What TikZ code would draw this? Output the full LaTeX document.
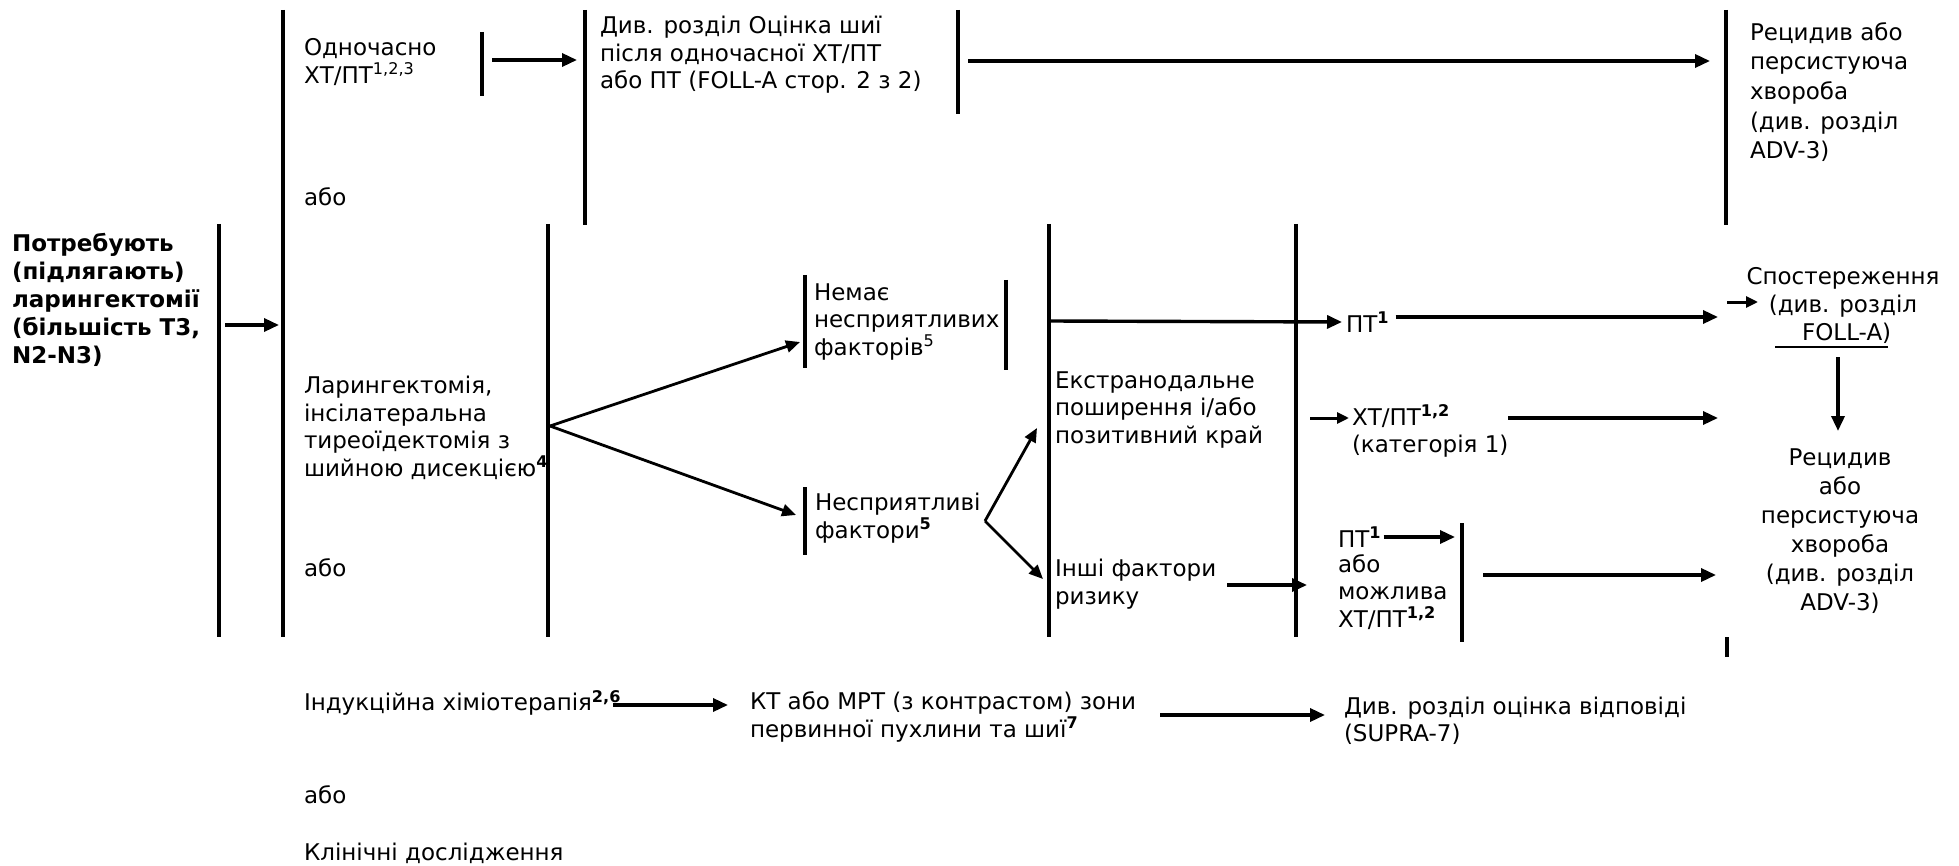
\documentclass[tikz,border=0pt]{standalone}
\usepackage{fontspec}
\setmainfont{DejaVu Sans}
\usetikzlibrary{arrows.meta}
\begin{document}
\begin{tikzpicture}[x=0.5pt,y=-0.5pt,
  bar/.style={line width=1.9pt},
  arr/.style={line width=1.7pt,-{Triangle[length=7.5pt,width=6.5pt]}},
  darr/.style={line width=1.4pt,-{Triangle[length=7pt,width=6pt]}},
  sarr/.style={line width=1.5pt,-{Triangle[length=6pt,width=5.5pt]}},
  txt/.style={inner sep=0pt,outer sep=0pt,align=left,anchor=west,font=\fontsize{11.5pt}{13.75pt}\selectfont},
  wtxt/.style={txt,font=\fontsize{11.5pt}{14.8pt}\selectfont},
  ctxt/.style={txt,align=center,anchor=center,font=\fontsize{11.5pt}{14.5pt}\selectfont},
  btxt/.style={txt,font=\fontsize{11.5pt}{14pt}\selectfont\bfseries}]
\useasboundingbox (0,0) rectangle (1959,866);

% ---------- vertical bars ----------
\draw[bar] (219,224) -- (219,637);
\draw[bar] (283,10) -- (283,637);
\draw[bar] (482,32) -- (482,96);
\draw[bar] (585,10) -- (585,225);
\draw[bar] (958,10) -- (958,114);
\draw[bar] (1726,10) -- (1726,225);
\draw[bar] (548,224) -- (548,637);
\draw[bar] (805,275) -- (805,368);
\draw[bar] (1006,280) -- (1006,370);
\draw[bar] (805,487) -- (805,555);
\draw[bar] (1049,224) -- (1049,637);
\draw[bar] (1296,224) -- (1296,637);
\draw[bar] (1462,523) -- (1462,642);
\draw[bar] (1727,637) -- (1727,657);

% ---------- texts ----------
\node[btxt] (req) at (12,300) {Потребують\\(підлягають)\\ларингектомії\\(більшість Т3,\\N2-N3)};
\node[txt] (simul) at (304,62) {Одночасно\\ХТ/ПТ\textsuperscript{1,2,3}};
\node[txt] (neck) at (600,55) {Див. розділ Оцінка шиї\\після одночасної ХТ/ПТ\\або ПТ (FOLL-A стор. 2 з 2)};
\node[wtxt] (rec1) at (1750,92) {Рецидив або\\персистуюча\\хвороба\\(див. розділ\\ADV-3)};
\node[txt] (or1) at (304,197) {або};
\node[txt] (lar) at (304,428) {Ларингектомія,\\інсілатеральна\\тиреоїдектомія з\\шийною дисекцією\textsuperscript{\textbf{4}}};
\node[txt] (or2) at (304,568) {або};
\node[txt] (noadv) at (814,322) {Немає\\несприятливих\\факторів\textsuperscript{5}};
\node[txt] (adv) at (815,518) {Несприятливі\\фактори\textsuperscript{\textbf{5}}};
\node[txt] (ext) at (1055,410) {Екстранодальне\\поширення і/або\\позитивний край};
\node[txt] (oth) at (1055,584) {Інші фактори\\ризику};
\node[txt] (rt1) at (1346,322) {ПТ\textsuperscript{\textbf{1}}};
\node[txt] (crt1) at (1352,431) {ХТ/ПТ\textsuperscript{\textbf{1,2}}\\(категорія 1)};
\node[txt] (rt2) at (1338,537) {ПТ\textsuperscript{\textbf{1}}};
\node[txt] (crt2) at (1338,592) {або\\можлива\\ХТ/ПТ\textsuperscript{\textbf{1,2}}};
\node[ctxt,font=\fontsize{11.5pt}{14pt}\selectfont] (obs) at (1843,305) {Спостереження\\(див. розділ\\\ FOLL-A)};
\node[ctxt] (rec2) at (1840,531) {Рецидив\\або\\персистуюча\\хвороба\\(див. розділ\\ADV-3)};
\node[txt] (ind) at (304,703) {Індукційна хіміотерапія\textsuperscript{\textbf{2,6}}};
\node[txt] (ct) at (750,717) {КТ або МРТ (з контрастом) зони\\первинної пухлини та шиї\textsuperscript{\textbf{7}}};
\node[txt] (supra) at (1344,721) {Див. розділ оцінка відповіді\\(SUPRA-7)};
\node[txt] (or3) at (304,795) {або};
\node[txt] (clin) at (304,853) {Клінічні дослідження};

% underline of FOLL-A)
\draw[line width=1.4pt] (1775,347) -- (1888,347);

% ---------- connector end points ----------
\coordinate (reqout) at (225,325);
\coordinate (treatin) at (279,325);
\coordinate (simout) at (492,60);
\coordinate (neckin) at (577,60);
\coordinate (neckout) at (968,61);
\coordinate (rec1in) at (1710,61);
\coordinate (larout) at (550,426);
\coordinate (noadvin) at (800,342);
\coordinate (advin) at (796,515);
\coordinate (advout) at (985,521);
\coordinate (extin) at (1037,428);
\coordinate (othin) at (1043,579);
\coordinate (fline) at (1049,321);
\coordinate (obsin) at (1718,317);
\coordinate (crt1a) at (1310,418);
\coordinate (crt1b) at (1349,418);
\coordinate (crt1out) at (1508,418);
\coordinate (rec2in) at (1718,418);
\coordinate (othout) at (1227,585);
\coordinate (grpin) at (1307,585);
\coordinate (rt2tip) at (1455,537);
\coordinate (grpout) at (1483,575);
\coordinate (rec2inb) at (1716,575);
\coordinate (obsa) at (1727,302);
\coordinate (obsb) at (1758,302);
\coordinate (obsdown) at (1838,357);
\coordinate (rec2top) at (1838,431);
\coordinate (indout) at (613,705);
\coordinate (ctin) at (728,705);
\coordinate (ctout) at (1160,715);
\coordinate (suprain) at (1325,715);

% ---------- connectors ----------
\draw[arr] (reqout) -- (treatin);
\draw[arr] (simout) -- (neckin);
\draw[arr] (neckout) -- (rec1in);
\draw[darr] (larout) -- (noadvin);
\draw[darr] (larout) -- (advin);
\draw[darr] (advout) -- (extin);
\draw[darr] (advout) -- (othin);
\draw[arr] (fline) -- ([xshift=-2pt]rt1.west);
\draw[arr] ([xshift=3pt]rt1.east |- obsin) -- (obsin);
\draw[sarr] (crt1a) -- (crt1b);
\draw[arr] (crt1out) -- (rec2in);
\draw[arr] (othout) -- (grpin);
\draw[arr] ([xshift=1pt]rt2.east |- rt2tip) -- (rt2tip);
\draw[arr] (grpout) -- (rec2inb);
\draw[sarr] (obsa) -- (obsb);
\draw[arr] (obsdown) -- (rec2top);
\draw[arr] (indout) -- (ctin);
\draw[arr] (ctout) -- (suprain);
\end{tikzpicture}
\end{document}
